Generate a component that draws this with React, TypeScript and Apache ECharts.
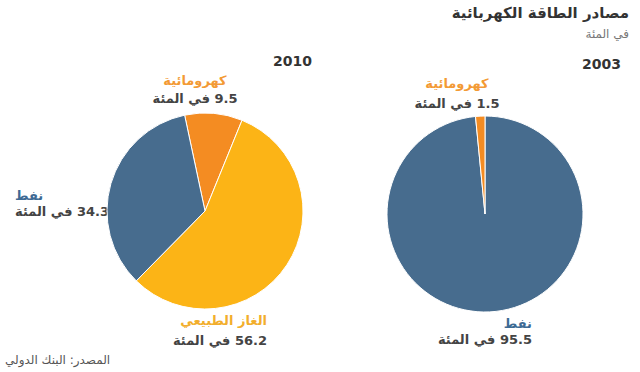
import React, { useEffect, useRef } from "react";
import * as echarts from "echarts";

const title = "مصادر الطاقة الكهربائية";
const subtitle = "في المئة";
const source = "المصدر: البنك الدولي";
const unit = "في المئة";
const years = ["2010", "2003"];
const sourceNames = ["كهرومائية", "الغاز الطبيعي", "نفط"];
const hydro = [9.5, 1.5];
const gas = [56.2, null];
const oil = [34.3, 95.5];

const BLUE = "#476c8e";
const ORANGE = "#f48c22";
const YELLOW = "#fcb416";
const FONT = "'DejaVu Sans', 'Noto Sans', sans-serif";
const RLM = "\u200F";

export default function App() {
  const ref = useRef<HTMLDivElement>(null);
  useEffect(() => {
    document.body.style.margin = "0";
    const chart = echarts.init(ref.current!, null, { renderer: "svg" });
    const label = (v: number | null) => `${RLM}${v} ${unit}`;
    const txt = (
      text: string,
      x: number,
      y: number,
      align: string,
      size: number,
      color: string,
      weight: string = "bold"
    ) => ({
      type: "text",
      x,
      y,
      style: {
        text,
        align,
        verticalAlign: "middle",
        fontSize: size,
        fontWeight: weight,
        fontFamily: FONT,
        fill: color,
      },
    });
    const pieData = (i: number, order: number[]) => {
      const vals = [hydro[i], gas[i], oil[i]];
      const cols = [ORANGE, YELLOW, BLUE];
      return order
        .filter((k) => vals[k] != null)
        .map((k) => ({
          name: sourceNames[k],
          value: vals[k],
          itemStyle: { color: cols[k] },
        }));
    };
    chart.setOption({
      animation: false,
      series: [
        {
          type: "pie",
          center: [205, 211],
          radius: 98,
          startAngle: 102,
          clockwise: true,
          label: { show: false },
          labelLine: { show: false },
          emphasis: { disabled: true },
          itemStyle: { borderColor: "#ffffff", borderWidth: 1 },
          data: pieData(0, [0, 1, 2]),
        },
        {
          type: "pie",
          center: [485, 214],
          radius: 98,
          startAngle: 90,
          clockwise: true,
          label: { show: false },
          labelLine: { show: false },
          emphasis: { disabled: true },
          itemStyle: { borderColor: "#ffffff", borderWidth: 1 },
          data: pieData(1, [2, 0]),
        },
      ],
      graphic: [
        txt(title, 629, 13, "right", 15, "#333333"),
        txt(subtitle, 629, 34, "right", 12, "#777777", "normal"),
        txt(years[0], 312, 61, "right", 14, "#333333"),
        txt(years[1], 621, 64, "right", 14, "#333333"),
        txt(sourceNames[0], 195, 80, "center", 13, "#f39a35"),
        txt(label(hydro[0]), 195, 98, "center", 13, "#444444"),
        txt(sourceNames[0], 457, 83, "center", 13, "#f39a35"),
        txt(label(hydro[1]), 457, 103, "center", 13, "#444444"),
        txt(sourceNames[2], 15, 195, "left", 13, "#3d6a94"),
        txt(label(oil[0]), 15, 211, "left", 13, "#444444"),
        txt(sourceNames[1], 267, 320, "right", 13, "#f2ae2c"),
        txt(label(gas[0]), 267, 340, "right", 13, "#444444"),
        txt(sourceNames[2], 532, 323, "right", 13, "#3d6a94"),
        txt(label(oil[1]), 532, 339, "right", 13, "#444444"),
        txt(source, 5, 360, "left", 12, "#555555", "normal"),
      ],
    });
    return () => chart.dispose();
  }, []);
  return <div ref={ref} style={{ width: 640, height: 372 }} />;
}
